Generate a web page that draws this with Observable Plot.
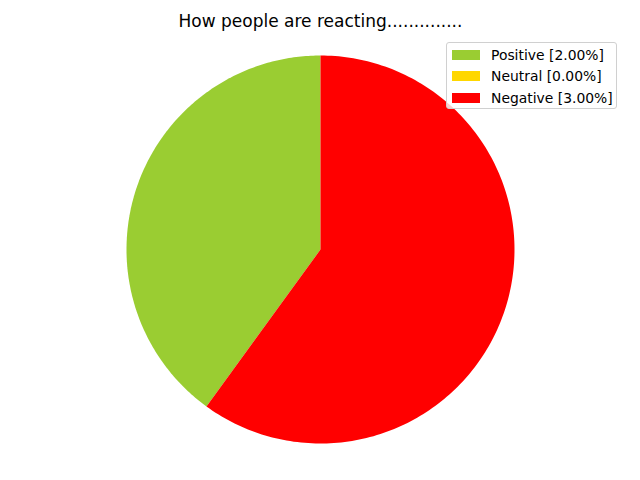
<!DOCTYPE html>
<html>
<head>
<meta charset="utf-8">
<script src="https://cdn.jsdelivr.net/npm/d3@7"></script>
<script src="https://cdn.jsdelivr.net/npm/@observablehq/plot@0.6"></script>
<style>
  html, body { margin: 0; padding: 0; background: #fff; }
  #wrap { position: relative; width: 640px; height: 480px; font-family: "DejaVu Sans", sans-serif; }
  #legend { position: absolute; left: 446px; top: 42px; width: 169px; height: 65px;
    border: 1px solid #d0d0d0; border-radius: 3px; background: rgba(255,255,255,0.8); }
  .row { position: absolute; left: 5px; height: 14px; display: flex; align-items: center; font-size: 13.9px; color: #000; white-space: nowrap; }
  .sw { width: 28px; height: 10px; margin-right: 11px; }
</style>
</head>
<body>
<div id="wrap"></div>
<script>
const title = "How people are reacting..............";
const labels = ["Positive", "Neutral", "Negative"];
const values = [2, 0, 3];
const percents = ["2.00%", "0.00%", "3.00%"];
const colors = ["yellowgreen", "gold", "red"];

const data = labels.map((l, i) => ({label: l, value: values[i]}));
// matplotlib-style: start at 90deg, counterclockwise
const pie = d3.pie().value(d => d.value).sort(null);
const arcs = pie(data);
const pts = [];
for (const a of arcs) {
  if (a.endAngle - a.startAngle <= 0) continue;
  const n = 200;
  pts.push({label: a.data.label, x: 0, y: 0});
  for (let k = 0; k <= n; k++) {
    const t = a.startAngle + (a.endAngle - a.startAngle) * k / n;
    const ang = Math.PI / 2 + t; // counterclockwise from top
    pts.push({label: a.data.label, x: Math.cos(ang), y: Math.sin(ang)});
  }
  pts.push({label: a.data.label, x: 0, y: 0});
}

const R = 194, cx = 320, cy = 249;
const plot = Plot.plot({
  width: 640, height: 480,
  margin: 0,
  x: {domain: [-cx / R, (640 - cx) / R], axis: null},
  y: {domain: [-(480 - cy) / R, cy / R], axis: null},
  color: {domain: labels, range: colors},
  style: {fontFamily: "DejaVu Sans, sans-serif", background: "white"},
  marks: [
    Plot.line(pts, {x: "x", y: "y", z: "label", fill: "label", stroke: null, curve: "linear"}),
    Plot.text([title], {frameAnchor: "top", dy: 14, text: d => d, fontSize: 17, fill: "black"})
  ]
});
const wrap = document.getElementById("wrap");
wrap.appendChild(plot);

const leg = document.createElement("div");
leg.id = "legend";
labels.forEach((l, i) => {
  const row = document.createElement("div");
  row.className = "row";
  row.style.top = (5 + i * 21.3) + "px";
  const sw = document.createElement("div");
  sw.className = "sw";
  sw.style.background = colors[i];
  const tx = document.createElement("span");
  tx.textContent = `${l} [${percents[i]}]`;
  row.appendChild(sw); row.appendChild(tx);
  leg.appendChild(row);
});
wrap.appendChild(leg);
</script>
</body>
</html>
